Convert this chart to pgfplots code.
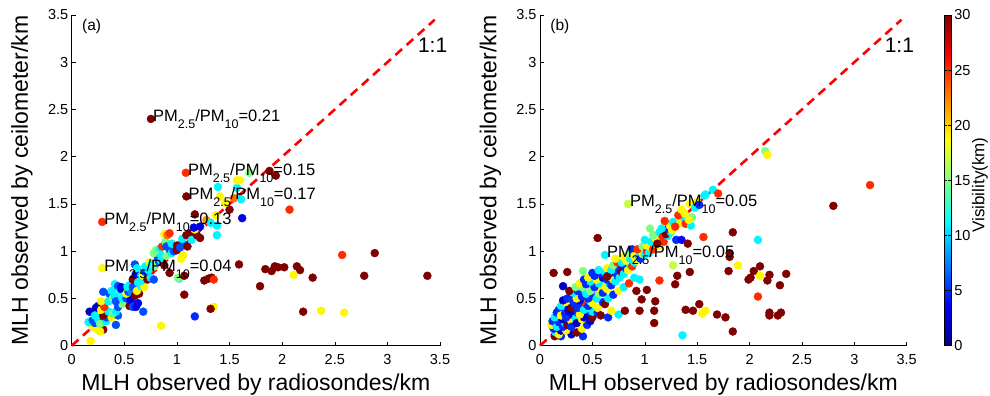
\documentclass[border=0pt]{standalone}
\usepackage{fontspec}
\setmainfont{Liberation Sans}
\usepackage{pgfplots}
\usepackage{pgfplotstable}
\pgfplotsset{compat=1.18}
\newcommand{\sub}[1]{\raisebox{-7pt}{\fontsize{12.5}{12.5}\selectfont #1}}
\tikzset{ann/.style={anchor=base west, inner sep=0pt, font=\fontsize{16.5}{16.5}\selectfont, xshift=2pt, yshift=-3pt}}
\pgfplotsset{
  mlh/.style={
    scale only axis, height=330.7pt,
    xmin=0,xmax=3.5,ymin=0,ymax=3.5,
    xtick={0,0.5,1,1.5,2,2.5,3,3.5},
    ytick={0,0.5,1,1.5,2,2.5,3,3.5},
    axis x line*=bottom, axis y line*=left,
    tick align=inside, major tick length=4pt,
    every tick/.style={black, line width=0.5pt},
    axis line style={black, line width=0.6pt},
    tick label style={font=\fontsize{14.5}{14.5}\selectfont},
    xticklabel style={yshift=-5pt},
    /pgf/number format/assume math mode=true,
    xlabel style={font=\fontsize{23}{23}\selectfont, at={(axis description cs:0.5,0)}, anchor=base, yshift=-45pt},
    ylabel style={font=\fontsize{23}{23}\selectfont, at={(axis description cs:-0.135,0.5)}, anchor=center},
    xlabel={MLH observed by radiosondes/km},
    ylabel={MLH observed by ceilometer/km},
    clip=false,
    colormap/jet, point meta min=0, point meta max=30,
  },
  pts/.style={scatter, only marks, mark=*, mark size=4.0pt, scatter src=explicit,
    scatter/use mapped color={draw=mapped color, fill=mapped color}},
  oneone/.style={red, line width=2.6pt, dash pattern=on 9pt off 6pt},
}
\begin{document}
\pgfplotstableread{
x y v
0.18 0.05 19
0.85 0.21 19
1.17 0.31 5
1.35 0.41 19
1.32 0.39 30
1.07 0.54 30
0.30 0.17 30
0.27 0.15 19
0.23 0.18 19
0.20 0.20 19
0.16 0.25 11
0.20 0.27 6
0.22 0.24 6
0.25 0.28 11
0.30 0.26 6
0.27 0.23 15
0.33 0.26 11
0.33 0.30 6
0.30 0.32 30
0.38 0.30 19
0.44 0.32 6
0.42 0.22 6
0.17 0.36 2
0.20 0.35 2
0.23 0.40 2
0.25 0.42 2
0.22 0.32 11
0.28 0.38 19
0.35 0.36 11
0.39 0.34 15
0.42 0.36 11
0.31 0.41 25
0.28 0.47 19
0.35 0.47 11
0.30 0.57 6
0.36 0.55 6
0.39 0.50 15
0.41 0.52 11
0.44 0.41 6
0.48 0.44 15
0.42 0.47 6
0.48 0.50 11
0.38 0.58 11
0.41 0.65 11
0.44 0.63 6
0.47 0.62 3
0.46 0.58 11
0.50 0.60 15
0.47 0.60 3
0.50 0.53 11
0.52 0.50 6
0.52 0.55 19
0.54 0.57 6
0.53 0.62 11
0.55 0.64 11
0.57 0.56 8
0.58 0.62 6
0.55 0.42 30
0.56 0.48 3
0.58 0.41 6
0.61 0.41 3
0.63 0.45 3
0.68 0.36 6
0.60 0.53 30
0.64 0.55 30
0.62 0.58 19
0.58 0.70 30
0.61 0.76 3
0.60 0.86 6
0.62 0.82 11
0.63 0.67 11
0.66 0.63 11
0.69 0.62 19
0.67 0.69 11
0.66 0.74 11
0.68 0.74 19
0.70 0.78 6
0.72 0.70 30
0.75 0.72 11
0.78 0.70 6
0.73 0.80 11
0.70 0.84 11
0.74 0.88 19
0.76 0.86 11
0.79 0.84 15
0.83 0.89 6
0.82 0.93 6
0.85 0.90 11
0.88 0.85 30
0.78 0.98 15
0.80 0.99 15
0.84 0.97 11
0.80 1.01 15
0.84 1.03 11
0.86 1.05 25
0.89 1.10 15
0.90 0.95 15
0.90 1.05 6
0.93 1.02 6
0.95 0.98 11
0.97 1.00 6
0.95 1.08 11
1.00 1.01 30
1.00 1.06 30
1.02 1.06 30
1.03 1.04 6
1.06 0.96 19
1.04 0.92 19
1.06 1.07 6
1.05 1.13 11
1.10 1.05 30
0.88 1.18 19
0.91 1.17 23
0.93 1.19 25
1.12 1.19 30
1.09 1.17 30
1.14 1.12 11
1.19 1.17 30
1.22 1.14 30
1.17 1.23 19
1.16 1.25 3
1.22 1.26 3
1.38 1.17 11
1.28 1.33 22
1.32 1.30 11
1.38 1.27 11
1.37 1.38 19
1.17 1.39 30
1.50 1.44 30
1.46 1.51 19
1.62 1.35 3
1.54 1.56 23
1.61 1.55 11
1.41 1.58 19
1.09 1.58 30
1.39 1.68 11
1.57 1.67 11
1.57 1.75 19
1.60 1.75 19
1.69 1.83 15
1.88 1.85 30
1.94 1.80 30
1.085 1.83 25
0.753 2.40 30
2.07 1.44 25
0.29 1.31 25
0.29 0.82 19
0.93 0.77 30
1.02 0.71 11
1.01 0.72 15
1.07 0.74 30
1.26 0.69 30
1.30 0.71 30
1.33 0.72 30
1.35 0.70 25
1.59 0.86 30
1.79 0.63 30
1.84 0.81 30
1.90 0.79 30
1.93 0.84 30
1.96 0.83 30
2.02 0.83 30
2.14 0.84 30
2.17 0.80 30
2.11 0.75 19
2.29 0.72 30
2.20 0.36 30
2.37 0.37 19
2.59 0.35 19
2.57 0.96 25
2.88 0.98 30
2.78 0.74 30
3.38 0.74 30
}\dataA
\pgfplotstableread{
x y v
0.14 0.10 30
0.20 0.10 5
0.30 0.12 2
0.35 0.14 30
0.41 0.10 5
0.15 0.14 11
0.18 0.12 19
0.13 0.18 5
0.20 0.16 2
0.25 0.16 19
0.11 0.22 19
0.12 0.26 5
0.16 0.20 11
0.18 0.25 5
0.22 0.20 5
0.24 0.24 11
0.26 0.22 30
0.22 0.28 2
0.28 0.28 5
0.30 0.26 19
0.30 0.20 5
0.40 0.18 19
0.45 0.22 5
0.14 0.30 11
0.16 0.35 5
0.18 0.38 5
0.20 0.32 19
0.25 0.30 5
0.24 0.34 5
0.32 0.32 2
0.34 0.29 11
0.35 0.24 2
0.40 0.28 19
0.45 0.32 5
0.48 0.26 2
0.42 0.30 2
0.50 0.30 30
0.50 0.36 11
0.55 0.35 5
0.36 0.35 5
0.38 0.33 19
0.28 0.36 2
0.26 0.40 2
0.20 0.42 11
0.30 0.40 30
0.36 0.40 5
0.40 0.40 5
0.42 0.38 11
0.44 0.44 25
0.46 0.42 5
0.55 0.40 19
0.24 0.46 19
0.22 0.48 2
0.32 0.46 5
0.33 0.44 5
0.38 0.48 2
0.48 0.47 11
0.50 0.45 19
0.60 0.46 5
0.62 0.44 30
0.26 0.50 5
0.30 0.52 5
0.35 0.50 19
0.40 0.52 5
0.46 0.50 5
0.52 0.52 5
0.54 0.50 11
0.65 0.50 11
0.32 0.56 11
0.36 0.58 5
0.28 0.58 30
0.44 0.55 11
0.48 0.58 15
0.56 0.55 15
0.58 0.58 19
0.60 0.56 5
0.70 0.54 5
0.75 0.58 19
0.34 0.62 15
0.40 0.62 15
0.52 0.62 5
0.62 0.62 11
0.64 0.60 19
0.60 0.64 19
0.80 0.62 11
0.38 0.66 19
0.44 0.65 5
0.48 0.68 11
0.56 0.66 11
0.66 0.66 11
0.68 0.64 5
0.85 0.66 25
0.42 0.70 5
0.46 0.72 19
0.54 0.70 19
0.60 0.72 2
0.64 0.70 5
0.68 0.72 11
0.70 0.70 19
0.72 0.68 11
0.90 0.72 11
0.95 0.70 11
0.52 0.74 5
0.50 0.77 5
0.58 0.76 5
0.62 0.78 11
0.66 0.76 5
0.72 0.78 5
0.74 0.74 5
0.76 0.72 11
0.56 0.80 11
0.64 0.82 19
0.68 0.80 11
0.76 0.83 5
0.78 0.78 30
0.80 0.76 11
0.82 0.82 5
0.84 0.80 19
0.70 0.85 15
0.74 0.88 25
0.78 0.88 11
0.86 0.86 11
0.88 0.84 25
0.72 0.92 19
0.80 0.94 19
0.82 0.90 19
0.86 0.92 11
0.90 0.88 11
0.92 0.90 19
0.85 0.98 15
0.88 1.02 5
0.90 0.95 19
0.94 0.94 11
0.96 0.92 5
0.96 1.00 11
0.98 0.97 19
1.00 0.96 11
0.93 1.02 25
0.98 1.05 15
1.02 1.00 25
1.04 0.98 11
1.02 1.06 19
1.06 1.04 19
1.08 1.02 25
1.00 1.12 11
1.06 1.10 11
1.10 1.08 11
1.14 1.06 19
1.10 1.14 19
1.08 1.17 15
1.14 1.20 11
1.18 1.10 25
1.17 1.15 25
1.22 1.16 11
1.20 1.18 30
1.25 1.20 11
1.22 1.24 5
1.26 1.22 19
1.24 1.27 19
1.27 1.31 11
1.30 1.28 11
1.34 1.30 19
1.38 1.34 11
1.39 1.29 25
1.44 1.27 11
1.32 1.38 25
1.38 1.40 19
1.43 1.50 19
1.48 1.46 11
1.50 1.52 19
1.52 1.49 5
1.16 1.24 11
1.05 1.24 15
1.19 1.32 25
1.29 1.26 25
1.30 1.12 5
1.35 1.44 19
1.45 1.36 15
1.42 1.33 19
1.57 1.59 11
1.58 1.60 11
1.65 1.65 11
1.70 1.61 25
2.15 2.06 15
2.17 2.02 19
0.62 0.96 11
0.84 1.50 17
0.55 1.14 30
0.13 0.77 30
0.26 0.78 30
0.41 0.79 15
0.22 0.63 2
0.64 0.73 30
0.58 0.32 30
0.65 0.30 5
0.68 0.37 19
0.75 0.33 11
0.81 0.37 30
0.95 0.37 30
0.92 0.58 30
0.97 0.49 30
1.02 0.59 30
1.10 0.47 30
1.09 0.37 30
1.09 0.24 30
1.14 0.69 25
1.12 1.08 30
1.35 1.12 4
1.41 1.08 30
1.56 1.15 25
1.84 1.20 30
2.08 1.12 11
1.81 0.98 30
1.81 0.94 30
1.27 0.85 17
1.43 0.78 30
1.31 0.74 30
1.29 0.65 30
1.89 0.85 19
1.80 0.79 30
2.10 0.84 30
2.04 0.79 30
1.99 0.70 30
2.01 0.72 30
2.10 0.74 19
2.19 0.75 30
2.17 0.69 30
2.29 0.64 30
2.35 0.76 30
2.08 0.52 25
2.19 0.35 30
2.19 0.32 30
2.27 0.32 30
2.30 0.35 30
1.84 0.15 30
1.77 0.30 30
1.69 0.33 30
1.58 0.37 19
1.55 0.34 19
1.52 0.44 30
1.46 0.37 30
1.39 0.38 30
1.36 0.11 11
2.80 1.48 30
3.15 1.70 25
}\dataB
\begin{tikzpicture}[x=1pt,y=1pt]
\useasboundingbox (0,0) rectangle (990,396);
\begin{axis}[mlh, width=368.3pt, at={(71.7pt,50.3pt)}, anchor=south west]
\addplot[pts] table[x=x,y=y,meta=v] {\dataA};
\addplot[oneone] coordinates {(0,0) (3.45,3.45)};
\end{axis}
\begin{axis}[mlh, width=366.7pt, at={(540pt,50.3pt)}, anchor=south west,
  colorbar,
  colorbar style={at={(parent axis.north east)}, anchor=north west, xshift=29pt,
    width=6.6pt, ytick={0,5,10,15,20,25,30},
    tick align=inside, major tick length=2.5pt,
    yticklabel style={font=\fontsize{14.5}{14.5}\selectfont},
    /pgf/number format/assume math mode=true,
    axis line style={black, line width=0.5pt}}]
\addplot[pts] table[x=x,y=y,meta=v] {\dataB};
\addplot[oneone] coordinates {(0,0) (3.45,3.45)};
\end{axis}
% text annotations on top of the markers (positions in picture pt)
\node[font=\fontsize{21}{21}\selectfont] at (432.64,350.77) {1:1};
\node[font=\fontsize{15.5}{15.5}\selectfont] at (91.69,369.66) {(a)};
\node[ann] at (150.94,277.07) {PM\sub{2.5}/PM\sub{10}=0.21};
\node[ann] at (185.87,223.21) {PM\sub{2.5}/PM\sub{10}=0.15};
\node[ann] at (186.40,199.59) {PM\sub{2.5}/PM\sub{10}=0.17};
\node[ann] at (102.22,174.08) {PM\sub{2.5}/PM\sub{10}=0.13};
\node[ann] at (102.22,127.78) {PM\sub{2.5}/PM\sub{10}=0.04};
\node[font=\fontsize{21}{21}\selectfont] at (899.37,350.77) {1:1};
\node[font=\fontsize{15.5}{15.5}\selectfont] at (559.91,369.66) {(b)};
\node[ann] at (628.01,192.03) {PM\sub{2.5}/PM\sub{10}=0.05};
\node[ann] at (604.96,141.01) {PM\sub{2.5}/PM\sub{10}=0.05};
\node[rotate=90, font=\fontsize{17}{17}\selectfont] at (980,211) {Visibility(km)};
\end{tikzpicture}
\end{document}
